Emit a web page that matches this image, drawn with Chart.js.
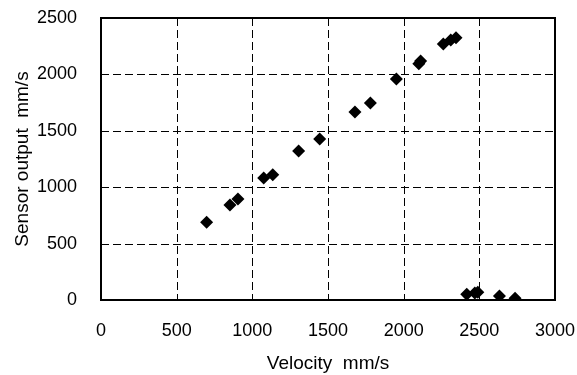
<!DOCTYPE html>
<html>
<head>
<meta charset="utf-8">
<script src="https://cdn.jsdelivr.net/npm/chart.js@4"></script>
<style>
  html, body { margin: 0; padding: 0; background: #fff; }
  #wrap { width: 577px; height: 375px; }
</style>
</head>
<body>
<div id="wrap"><canvas id="grafico" width="577" height="375"></canvas></div>
<script>
// dados
const velocidade = [698, 852, 905, 1075, 1135, 1306, 1445, 1678, 1780, 1952, 2100, 2112, 2262, 2311, 2346, 2417, 2470, 2490, 2633, 2736];
const saidaSensor = [689, 842, 895, 1082, 1111, 1321, 1427, 1667, 1746, 1959, 2095, 2118, 2269, 2305, 2325, 50, 62, 68, 35, 15];
const ticksX = [0, 500, 1000, 1500, 2000, 2500, 3000];
const ticksY = [0, 500, 1000, 1500, 2000, 2500];

const pontos = velocidade.map((v, i) => ({ x: v, y: saidaSensor[i] }));

// grade tracejada (pelas escalas do próprio Chart.js)
const gradeTracejada = {
  id: 'gradeTracejada',
  beforeDatasetsDraw(chart) {
    const { ctx, chartArea: a, scales } = chart;
    ctx.save();
    ctx.strokeStyle = '#000';
    ctx.lineWidth = 1;
    ctx.setLineDash([8, 4]);
    scales.x.ticks.forEach(t => {
      const px = Math.round(scales.x.getPixelForValue(t.value)) + 0.5;
      ctx.beginPath();
      ctx.moveTo(px, a.top);
      ctx.lineTo(px, a.bottom);
      ctx.stroke();
    });
    scales.y.ticks.forEach(t => {
      const py = Math.round(scales.y.getPixelForValue(t.value)) + 0.5;
      ctx.beginPath();
      ctx.moveTo(a.left, py);
      ctx.lineTo(a.right, py);
      ctx.stroke();
    });
    ctx.restore();
  },
  // moldura preta em volta da área do gráfico
  afterDraw(chart) {
    const { ctx, chartArea: a } = chart;
    ctx.save();
    ctx.strokeStyle = '#000';
    ctx.lineWidth = 2;
    ctx.strokeRect(a.left, a.top, a.right - a.left, a.bottom - a.top);
    ctx.restore();
  }
};

const fonteTick = { family: 'Liberation Sans, Arial, sans-serif', size: 18 };
const fonteTitulo = { family: 'Liberation Sans, Arial, sans-serif', size: 19 };
const semVirgula = v => String(v);

new Chart(document.getElementById('grafico').getContext('2d'), {
  type: 'scatter',
  data: {
    datasets: [{
      data: pontos,
      pointStyle: 'rectRot',
      pointRadius: 6.5,
      pointHoverRadius: 6.5,
      backgroundColor: '#000',
      borderColor: '#000',
      borderWidth: 0
    }]
  },
  plugins: [gradeTracejada],
  options: {
    responsive: false,
    animation: false,
    layout: { padding: { left: 0, right: 22, top: 18, bottom: 0 } },
    plugins: { legend: { display: false }, tooltip: { enabled: false } },
    scales: {
      x: {
        type: 'linear',
        min: 0, max: 3000,
        afterBuildTicks: s => { s.ticks = ticksX.map(v => ({ value: v })); },
        afterFit: s => { s.height = 75; s.paddingLeft = 0; s.paddingRight = 0; },
        grid: { display: false },
        border: { display: false },
        ticks: { color: '#000', font: fonteTick, padding: 12, maxRotation: 0, callback: semVirgula },
        title: { display: true, text: 'Velocity  mm/s', color: '#000', font: fonteTitulo, padding: { top: 0, bottom: 0 } }
      },
      y: {
        type: 'linear',
        min: 0, max: 2500,
        afterBuildTicks: s => { s.ticks = ticksY.map(v => ({ value: v })); },
        afterFit: s => { s.width = 101; s.paddingTop = 0; s.paddingBottom = 0; },
        grid: { display: false },
        border: { display: false },
        ticks: { color: '#000', font: fonteTick, padding: 16, callback: semVirgula },
        title: { display: true, text: 'Sensor output  mm/s', color: '#000', font: fonteTitulo, padding: { top: 11, bottom: 0 } }
      }
    }
  }
});
</script>
</body>
</html>
